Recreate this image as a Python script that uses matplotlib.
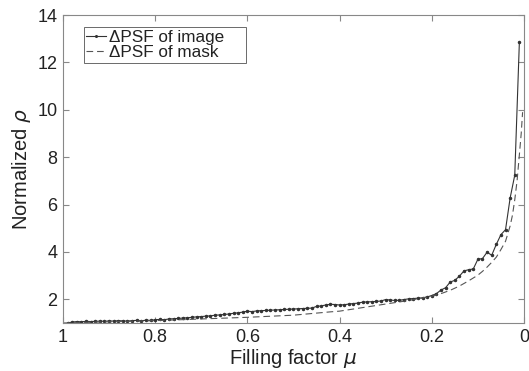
import numpy as np
import matplotlib
matplotlib.use("Agg")
import matplotlib.pyplot as plt

plt.rcParams['font.family'] = ['Liberation Sans', 'DejaVu Sans']
plt.rcParams['mathtext.fontset'] = 'dejavusans'

# filling factor mu, 0.99 ... 0.01
mu_image = np.round(np.arange(0.99, 0.005, -0.01), 2)
rho_image = [
    1.00, 1.04, 1.06, 1.05, 1.07, 1.06, 1.07, 1.08, 1.07, 1.09,
    1.08, 1.10, 1.09, 1.08, 1.10, 1.11, 1.09, 1.12, 1.11, 1.14,
    1.15, 1.14, 1.17, 1.18, 1.19, 1.21, 1.22, 1.24, 1.26, 1.27,
    1.29, 1.30, 1.33, 1.34, 1.36, 1.38, 1.41, 1.43, 1.46, 1.50,
    1.48, 1.51, 1.52, 1.53, 1.54, 1.55, 1.56, 1.57, 1.58, 1.59,
    1.60, 1.61, 1.62, 1.63, 1.70, 1.72, 1.76, 1.79, 1.78, 1.76,
    1.77, 1.80, 1.82, 1.84, 1.88, 1.89, 1.90, 1.91, 1.93, 1.99,
    1.97, 1.95, 1.96, 1.99, 2.02, 2.03, 2.05, 2.06, 2.10, 2.16,
    2.24, 2.39, 2.49, 2.73, 2.80, 2.98, 3.20, 3.25, 3.28, 3.69,
    3.72, 3.99, 3.86, 4.32, 4.73, 4.94, 6.28, 7.24, 12.85,
]

mu_mask = [1.0, 0.9, 0.8, 0.7, 0.6, 0.5, 0.42, 0.4, 0.31, 0.3, 0.25, 0.2,
           0.18, 0.16, 0.14, 0.12, 0.1, 0.09, 0.08, 0.07, 0.06, 0.05, 0.04,
           0.03, 0.025, 0.02, 0.015, 0.01, 0.006, 0.003]
rho_mask = [1.00, 1.05, 1.10, 1.17, 1.24, 1.33, 1.47, 1.50, 1.77, 1.80, 1.95, 2.13,
            2.24, 2.38, 2.56, 2.78, 3.02, 3.18, 3.36, 3.56, 3.78, 4.10, 4.45,
            5.10, 5.55, 6.20, 7.00, 8.10, 9.00, 9.90]

xticks = [1, 0.8, 0.6, 0.4, 0.2, 0]
xticklabels = ['1', '0.8', '0.6', '0.4', '0.2', '0']
yticks = [2, 4, 6, 8, 10, 12, 14]

fig = plt.figure(figsize=(5.29, 3.71), dpi=100)
ax = fig.add_axes([0.119, 0.1294, 0.8715, 0.830])

ax.plot(mu_image, rho_image, color='#333333', linewidth=0.8, marker='.',
        markersize=3, label=u'\u0394PSF of image    ')
ax.plot(mu_mask, rho_mask, color='#555555', linewidth=0.8,
        linestyle=(0, (6, 3.5)), label=u'\u0394PSF of mask')

ax.set_xlim(1, 0)
ax.set_ylim(1, 14)
ax.set_xticks(xticks)
ax.set_xticklabels(xticklabels)
ax.set_yticks(yticks)
ax.tick_params(direction='in', top=True, right=True, length=4,
               color='#888888', labelsize=13, labelcolor='#222222', pad=4)
for s in ax.spines.values():
    s.set_color('#888888')
    s.set_linewidth(0.8)

ax.set_xlabel(r'Filling factor $\mu$', fontsize=14.5, color='#222222', labelpad=1)
ax.set_ylabel(r'Normalized $\rho$', fontsize=14.5, color='#222222', labelpad=3)

leg = ax.legend(loc='upper left', bbox_to_anchor=(0.045, 0.96), fontsize=12.3,
                handlelength=1.15, handletextpad=0.2, borderpad=0.15,
                labelspacing=0.0, fancybox=False, borderaxespad=0,
                markerscale=0.8)
leg.get_frame().set_edgecolor('#444444')
leg.get_frame().set_linewidth(0.7)
for t in leg.get_texts():
    t.set_color('#222222')

fig.savefig('out.png', dpi=100)
